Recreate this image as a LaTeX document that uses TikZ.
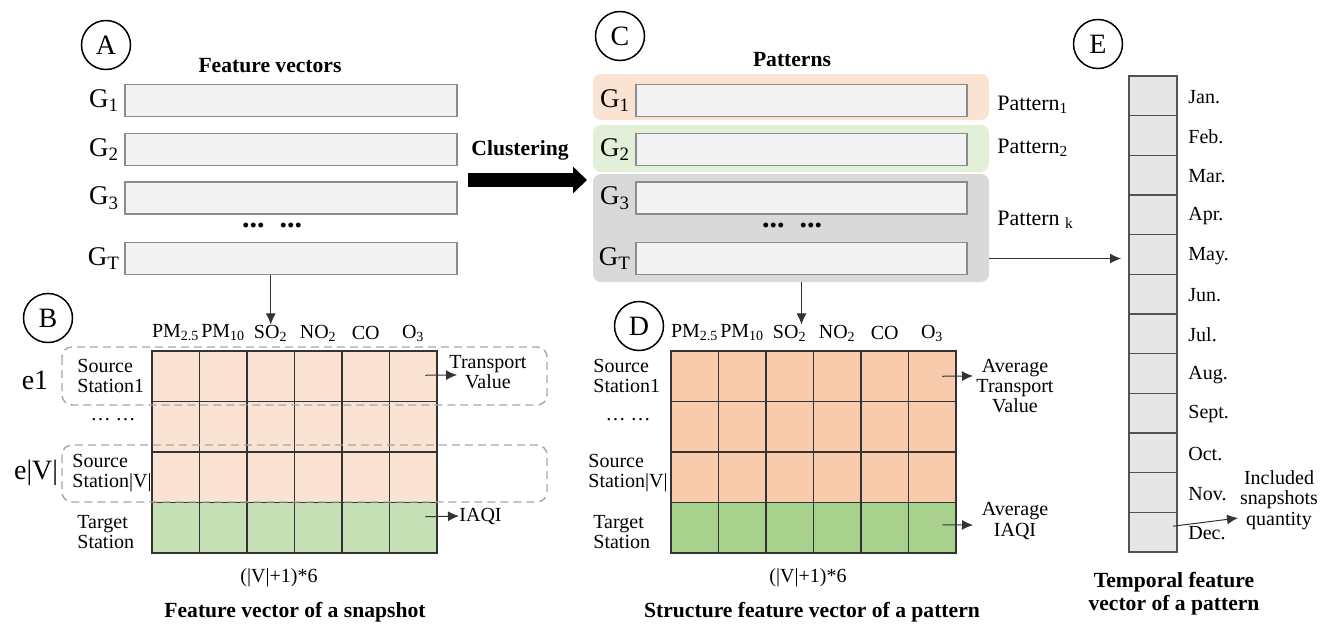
\documentclass[tikz,border=0pt]{standalone}
\usepackage{fontspec}
\setmainfont{Liberation Serif}
\usetikzlibrary{arrows.meta, positioning, calc}
\definecolor{barfill}{HTML}{F2F2F2}
\definecolor{barline}{HTML}{8C8C8C}
\definecolor{peachA}{HTML}{FBE3D4}
\definecolor{greenA}{HTML}{C5E0B4}
\definecolor{peachB}{HTML}{F8CBAD}
\definecolor{greenB}{HTML}{A9D18E}
\definecolor{patone}{HTML}{FBE3D4}
\definecolor{pattwo}{HTML}{E2F0D9}
\definecolor{patk}{HTML}{D9D9D9}
\definecolor{monthfill}{HTML}{E7E6E6}
\definecolor{gridline}{HTML}{333333}
\tikzset{
  >={Latex[length=5.5pt,width=5pt]},
  % texts
  txt/.style={inner sep=0pt, font=\fontsize{10}{10.2}\selectfont, align=center},
  txtl/.style={txt, align=left, anchor=west},
  ttl/.style={inner sep=0pt, font=\fontsize{10.8}{11.2}\selectfont\bfseries, align=center},
  glabel/.style={inner sep=0pt, font=\fontsize{13.5}{13.5}\selectfont},
  lettercirc/.style={circle, draw, line width=0.75pt, minimum size=24.5pt, inner sep=0pt, font=\fontsize{14}{14}\selectfont},
  % vectors and cells
  fvbar/.style={draw=barline, fill=barfill, line width=0.7pt, minimum width=166pt, minimum height=16pt, inner sep=0pt},
  patbox/.style={rounded corners=4pt, minimum width=198pt, inner sep=0pt},
  cellA/.style={draw=gridline, line width=0.6pt, minimum width=23.75pt, minimum height=25.25pt, inner sep=0pt, outer sep=0pt},
  month/.style={draw=gridline!85, fill=monthfill, line width=0.6pt, minimum width=24pt, minimum height=19.83pt, inner sep=0pt, outer sep=0pt},
  dashbox/.style={draw=gray!70, dash pattern=on 4pt off 2.5pt, line width=0.7pt, rounded corners=5pt},
  conn/.style={->, draw=black!80, line width=0.5pt},
  vdots/.style={inner sep=0pt, font=\fontsize{15}{15}\selectfont\bfseries},
}
\begin{document}
\begin{tikzpicture}[x=0.5pt,y=-0.5pt]
  \useasboundingbox (0,0) rectangle (1333,623);

  % A: feature vectors
  \node[lettercirc] (cA) at (106,45) {A};
  \node[ttl] (ttlA) at (270,66) {Feature vectors};
  \node[fvbar] (a1) at (291,100.5) {};
  \node[fvbar] (a2) at (291,149.5) {};
  \node[fvbar] (a3) at (291,198) {};
  \node[fvbar] (aT) at (291,258.5) {};
  \node[glabel] (ga1) at (104,100.5) {G\textsubscript{1}};
  \node[glabel] (ga2) at (104,149.5) {G\textsubscript{2}};
  \node[glabel] (ga3) at (104,198) {G\textsubscript{3}};
  \node[glabel] (gaT) at (104,258.5) {G\textsubscript{T}};
  \node[vdots] (dotsA) at (272,225) {...\enspace...};

  % B: snapshot matrix
  \node[lettercirc] (cB) at (48,318) {B};
  \foreach \r in {0,1,2}
    \foreach \c in {0,...,5}
      \node[cellA, fill=peachA] (b-\r-\c) at (175.75+47.5*\c, 376.25+50.5*\r) {};
  \foreach \c in {0,...,5}
    \node[cellA, fill=greenA] (b-3-\c) at (175.75+47.5*\c, 527.75) {};
  \foreach \h [count=\i from 0] in {PM\textsubscript{2.5}, PM\textsubscript{10}, SO\textsubscript{2}, NO\textsubscript{2}, CO, O\textsubscript{3}}
    \node[txt] (hb-\i) at ($(b-0-\i.north)+(0,-18)$) {\h};
  \draw[dashbox] (62,347) rectangle (547,405);
  \draw[dashbox] (62,445) rectangle (547,502);
  \node[inner sep=0pt, font=\fontsize{14}{14}\selectfont] (e1) at (35,380) {e1};
  \node[inner sep=0pt, font=\fontsize{14}{14}\selectfont] (eV) at (36,473) {e|V|};
  \node[txtl] (sb1) at (77,376) {Source\\Station1};
  \node[txt] (sbd) at (113,420) {\dots\ \dots};
  \node[txtl] (sbV) at (72,473) {Source\\Station|V|};
  \node[txtl] (tbS) at (77,532) {Target\\Station};
  \node[txt] (tvB) at (488,372) {Transport\\Value};
  \coordinate (tvB-tip) at (457,375);
  \node[txtl] (iaB) at (459,516) {IAQI};
  \node[txt] (szB) at (279,578) {(|V|+1)*6};
  \node[ttl] (capB) at (295,612) {Feature vector of a snapshot};
  \draw[conn] (hb-2 |- aT.south) -- (hb-2.north);
  \draw[conn] ($(b-0-5.center)+(12,-1)$) -- (tvB-tip);
  \draw[conn] ($(b-3-5.center)+(12,-11)$) -- (iaB.west);

  % clustering
  \node[ttl] (clu) at (520,150) {Clustering};
  \coordinate (cl-s) at (468,180);
  \coordinate (cl-e) at (587,180);
  \draw[-{Triangle[length=7pt,width=13pt]}, line width=7pt] (cl-s) -- (cl-e);

  % C: patterns
  \node[lettercirc] (cC) at (620,36) {C};
  \node[ttl] (ttlC) at (792,60) {Patterns};
  \node[patbox, fill=patone, minimum height=23pt] (g1box) at (791,97) {};
  \node[patbox, fill=pattwo, minimum height=23.5pt] (g2box) at (791,148.5) {};
  \node[patbox, fill=patk, minimum height=54pt] (gkbox) at (791,228) {};
  \node[fvbar, minimum width=165.5pt] (c1) at (801.5,100.5) {};
  \node[fvbar, minimum width=165.5pt] (c2) at (801.5,149.5) {};
  \node[fvbar, minimum width=165.5pt] (c3) at (801.5,198) {};
  \node[fvbar, minimum width=165.5pt] (cT) at (801.5,258.5) {};
  \node[glabel] (gc1) at (615,100.5) {G\textsubscript{1}};
  \node[glabel] (gc2) at (615,149.5) {G\textsubscript{2}};
  \node[glabel] (gc3) at (615,198) {G\textsubscript{3}};
  \node[glabel] (gcT) at (615,258.5) {G\textsubscript{T}};
  \node[vdots] (dotsC) at (792,225) {...\enspace...};
  \node[txtl, font=\fontsize{11}{11}\selectfont] (pt1) at (997,105) {Pattern\textsubscript{1}};
  \node[txtl, font=\fontsize{11}{11}\selectfont] (pt2) at (997,148) {Pattern\textsubscript{2}};
  \node[txtl, font=\fontsize{11}{11}\selectfont] (ptk) at (997,220) {Pattern \textsubscript{k}};

  % D: pattern matrix
  \node[lettercirc] (cD) at (639,326) {D};
  \foreach \r in {0,1,2}
    \foreach \c in {0,...,5}
      \node[cellA, fill=peachB] (d-\r-\c) at (694.75+47.5*\c, 376.25+50.5*\r) {};
  \foreach \c in {0,...,5}
    \node[cellA, fill=greenB] (d-3-\c) at (694.75+47.5*\c, 527.75) {};
  \foreach \h [count=\i from 0] in {PM\textsubscript{2.5}, PM\textsubscript{10}, SO\textsubscript{2}, NO\textsubscript{2}, CO, O\textsubscript{3}}
    \node[txt] (hd-\i) at ($(d-0-\i.north)+(0,-18)$) {\h};
  \node[txtl] (sd1) at (593,376) {Source\\Station1};
  \node[txt] (sdd) at (628,420) {\dots\ \dots};
  \node[txtl] (sdV) at (588,473) {Source\\Station|V|};
  \node[txtl] (tdS) at (593,532) {Target\\Station};
  \node[txt] (tvD) at (1015,386) {Average\\Transport\\Value};
  \node[txt] (iaD) at (1015,521) {Average\\IAQI};
  \coordinate (tvD-tip) at (973,376);
  \coordinate (iaD-tip) at (973,525);
  \node[txt] (szD) at (808,578) {(|V|+1)*6};
  \node[ttl] (capD) at (812,612) {Structure feature vector of a pattern};
  \draw[conn] (cT.south |- gkbox.south) -- (cT.south |- hd-2.north);
  \draw[conn] ($(d-0-5.center)+(10,0)$) -- (tvD-tip);
  \draw[conn] ($(d-3-5.center)+(10,-3)$) -- (iaD-tip);

  % E: months
  \node[lettercirc] (cE) at (1098,44) {E};
  \foreach \m [count=\i from 0] in {Jan., Feb., Mar., Apr., May., Jun., Jul., Aug., Sept., Oct., Nov., Dec.}{
    \node[month] (e-\i) at (1153, 95.83+39.67*\i) {};
    \node[txtl] (m-\i) at (1188, 97+39.67*\i) {\m};
  }
  \node[txt] (qty) at (1279,500) {Included\\snapshots\\quantity};
  \coordinate (qty-tip) at (1238,518);
  \node[ttl, font=\fontsize{10.8}{11.5}\selectfont\bfseries] (capE) at (1174,594) {Temporal feature\\vector of a pattern};
  \draw[conn, shorten >=4pt] (cT.center -| gkbox.east) -- (cT.center -| e-4.west);
  \draw[conn] ($(e-11.center)+(20,-6)$) -- (qty-tip);
\end{tikzpicture}
\end{document}
